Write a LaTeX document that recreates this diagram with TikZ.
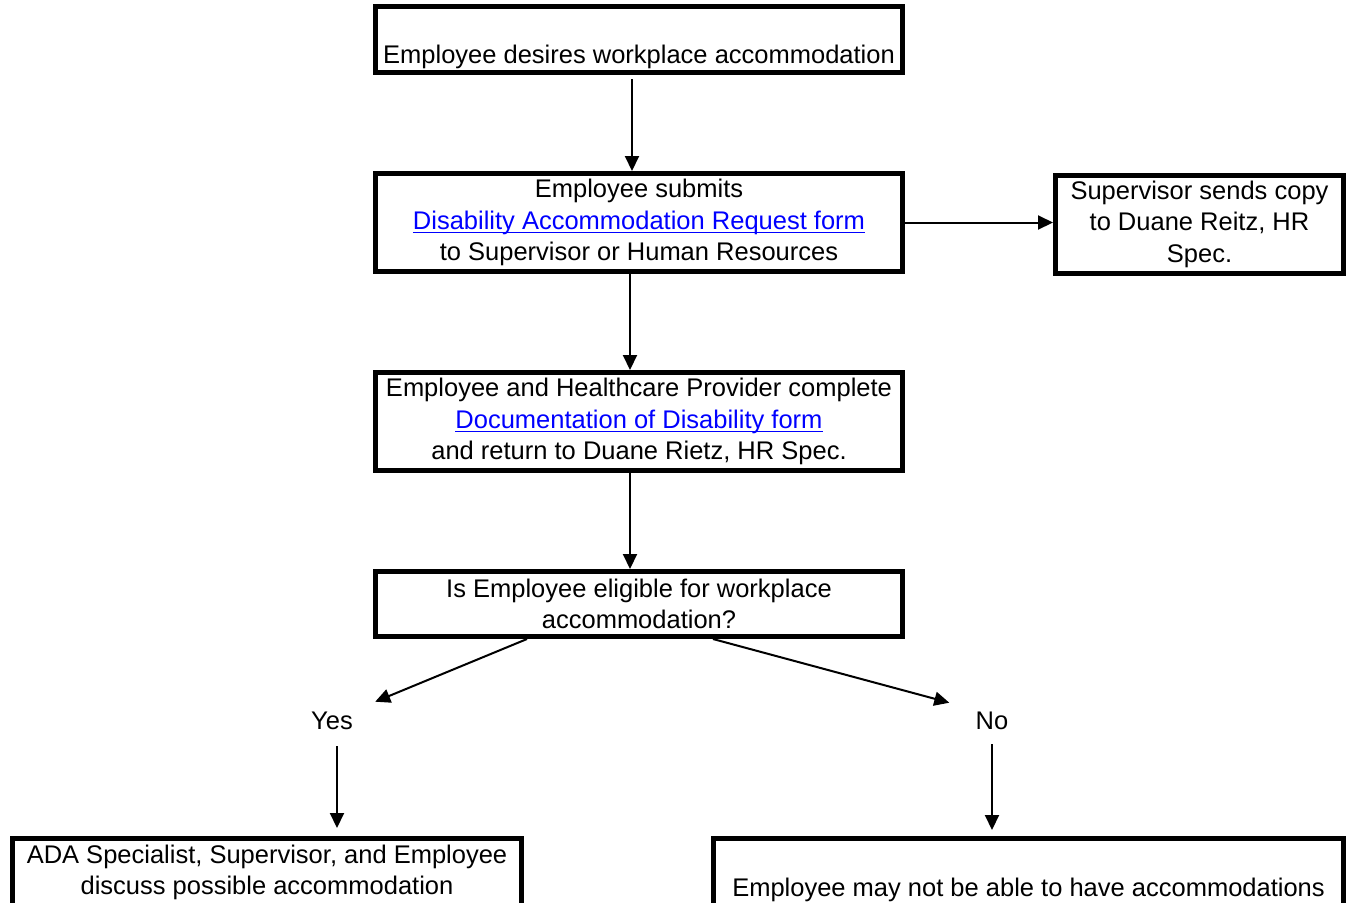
\documentclass[tikz,border=0pt]{standalone}
\usepackage{fontspec}
\setmainfont{Liberation Sans}
\usepackage{xcolor}
\usetikzlibrary{arrows.meta}
\definecolor{linkcol}{RGB}{0,0,255}
\newcommand{\formlink}[1]{\textcolor{linkcol}{\setbox0=\hbox{#1}\rlap{\rule[-2pt]{\wd0}{0.8pt}}\box0}}

\begin{document}
\begin{tikzpicture}[x=0.5pt,y=-0.5pt,
  box/.style={draw,line width=2.5pt,inner sep=0pt,align=center},
  flow/.style={-{Triangle[length=7.5pt,width=7pt]},line width=1pt},
  font=\fontsize{12.75}{15.75}\selectfont]
\useasboundingbox (0,0) rectangle (1351,902);
\node[box,minimum width=263.5pt,minimum height=33pt] (wish) at (639,39.5) {\strut\\Employee desires workplace accommodation};
\node[box,minimum width=263.5pt,minimum height=49pt] (submit) at (639,222.5) {Employee submits\\\formlink{Disability Accommodation Request form}\\to Supervisor or Human Resources};
\node[box,minimum width=144pt,minimum height=49pt] (copy) at (1199.5,224) {Supervisor sends copy\\to Duane Reitz, HR\\Spec.};
\node[box,minimum width=263.5pt,minimum height=49pt] (docs) at (639,421.5) {Employee and Healthcare Provider complete\\\formlink{Documentation of Disability form}\\and return to Duane Rietz, HR Spec.};
\node[box,minimum width=263.5pt,minimum height=32.5pt] (eligible) at (639,604) {Is Employee eligible for workplace\\accommodation?};
\node[inner sep=3pt] (yes) at (332,721) {Yes};
\node[inner sep=3pt] (no) at (992,721) {No};
\node[box,minimum width=254.5pt,minimum height=34pt] (talk) at (267,872.5) {ADA Specialist, Supervisor, and Employee\\discuss possible accommodation};
\node[box,minimum width=315pt,minimum height=34pt] (nope) at (1028.5,872.5) {\strut\\Employee may not be able to have accommodations};
\draw[flow] ([xshift=-3.5pt,yshift=-2pt]wish.south) -- ([xshift=-3.5pt]submit.north);
\draw[flow] ([xshift=-4.5pt]submit.south) -- ([xshift=-4.5pt]docs.north);
\draw[flow] ([xshift=-4.5pt]docs.south) -- ([xshift=-4.5pt]eligible.north);
\draw[flow] (submit.east) -- (submit.east -| copy.west);
\draw[flow] ([xshift=-56pt]eligible.south) -- ([xshift=8pt,yshift=2pt]yes.north east);
\draw[flow] ([xshift=37pt]eligible.south) -- ([xshift=-10pt,yshift=1.5pt]no.north west);
\draw[flow] ([xshift=2.5pt,yshift=-5pt]yes.south) -- ([xshift=35pt,yshift=4pt]talk.north);
\draw[flow] ([yshift=-4pt]no.south) -- ([xshift=-18.25pt,yshift=3pt]nope.north);
\end{tikzpicture}
\end{document}
